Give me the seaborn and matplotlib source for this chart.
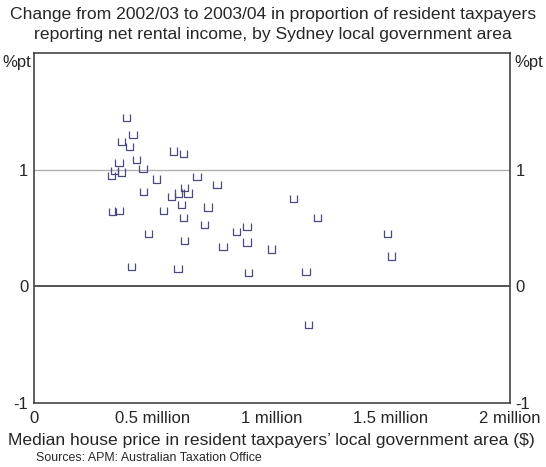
import matplotlib
matplotlib.use("Agg")
import matplotlib.pyplot as plt
import seaborn as sns
import pandas as pd
from matplotlib.path import Path

# median house price (million $) and change in share reporting net rental income (%pt)
price_m = [0.387, 0.416, 0.366, 0.403, 0.588, 0.630, 0.429, 0.357, 0.458, 0.340,
           0.366, 0.324, 0.513, 0.685, 0.769, 0.462, 0.634, 0.609, 0.647, 0.576,
           0.618, 0.731, 0.328, 0.357, 0.546, 0.630, 0.718, 0.849, 0.895, 0.483,
           0.634, 0.794, 0.895, 0.408, 0.605, 0.903, 1.092, 1.193, 0.996, 1.487,
           1.504, 1.143, 1.155]
change_pt = [1.45, 1.30, 1.24, 1.20, 1.16, 1.14, 1.09, 1.06, 1.01, 0.99,
             0.98, 0.95, 0.92, 0.94, 0.87, 0.81, 0.85, 0.80, 0.80, 0.77,
             0.70, 0.68, 0.64, 0.65, 0.65, 0.59, 0.53, 0.47, 0.51, 0.45,
             0.39, 0.34, 0.38, 0.17, 0.15, 0.12, 0.75, 0.59, 0.32, 0.45,
             0.26, 0.13, -0.33]

xticks = [0, 0.5, 1, 1.5, 2]
xticklabels = ["0", "0.5 million", "1 million", "1.5 million", "2 million"]
yticks = [-1, 0, 1]

df = pd.DataFrame({"price": price_m, "change": change_pt})

sns.set_style("white")
plt.rcParams["font.family"] = ["Liberation Sans", "DejaVu Sans"]

# open-topped square marker, like the "u" glyph
u_marker = Path([(-1, 1), (-1, -1), (1, -1), (1, 1)],
                [Path.MOVETO, Path.LINETO, Path.LINETO, Path.LINETO])

fig = plt.figure(figsize=(5.46, 4.67), dpi=100)
ax = fig.add_axes([34 / 546, 1 - 403 / 467, 476 / 546, 350 / 467])

ax.axhline(1, color="#b0b0b0", lw=1, zorder=1)
ax.axhline(0, color="#333333", lw=1.2, zorder=1)

sns.scatterplot(data=df, x="price", y="change", marker=u_marker, s=26,
                facecolors="none", edgecolors="#4a4a80", linewidths=0.9,
                ax=ax, legend=False, zorder=3)

ax.set_xlim(0, 2)
ax.set_ylim(-1, 2)
ax.set_xticks(xticks)
ax.set_xticklabels(xticklabels, fontsize=12)
ax.set_yticks(yticks)
ax.set_yticklabels([str(t) for t in yticks], fontsize=12)
ax.tick_params(axis="x", direction="in", length=5, width=1, color="#333333", pad=6)
ax.tick_params(axis="y", direction="in", length=0, pad=4, labelright=True, right=False)
for sp in ax.spines.values():
    sp.set_color("#444444")
    sp.set_linewidth(1.2)
ax.set_xlabel("")
ax.set_ylabel("")

fig.text(31 / 546, 1 - 62 / 467, "%pt", ha="right", va="center", fontsize=12)
fig.text(514 / 546, 1 - 62 / 467, "%pt", ha="left", va="center", fontsize=12)

fig.text(0.5, 1 - 14 / 467, "Change from 2002/03 to 2003/04 in proportion of resident taxpayers",
         ha="center", va="center", fontsize=12.6)
fig.text(0.5, 1 - 34 / 467, "reporting net rental income, by Sydney local government area",
         ha="center", va="center", fontsize=12.6)
fig.text(271 / 546, 1 - 441 / 467,
         "Median house price in resident taxpayers\u2019 local government area ($)",
         ha="center", va="center", fontsize=12.6)
fig.text(36 / 546, 1 - 458 / 467, "Sources: APM: Australian Taxation Office",
         ha="left", va="center", fontsize=8.9)

fig.savefig("out.png", dpi=100)
